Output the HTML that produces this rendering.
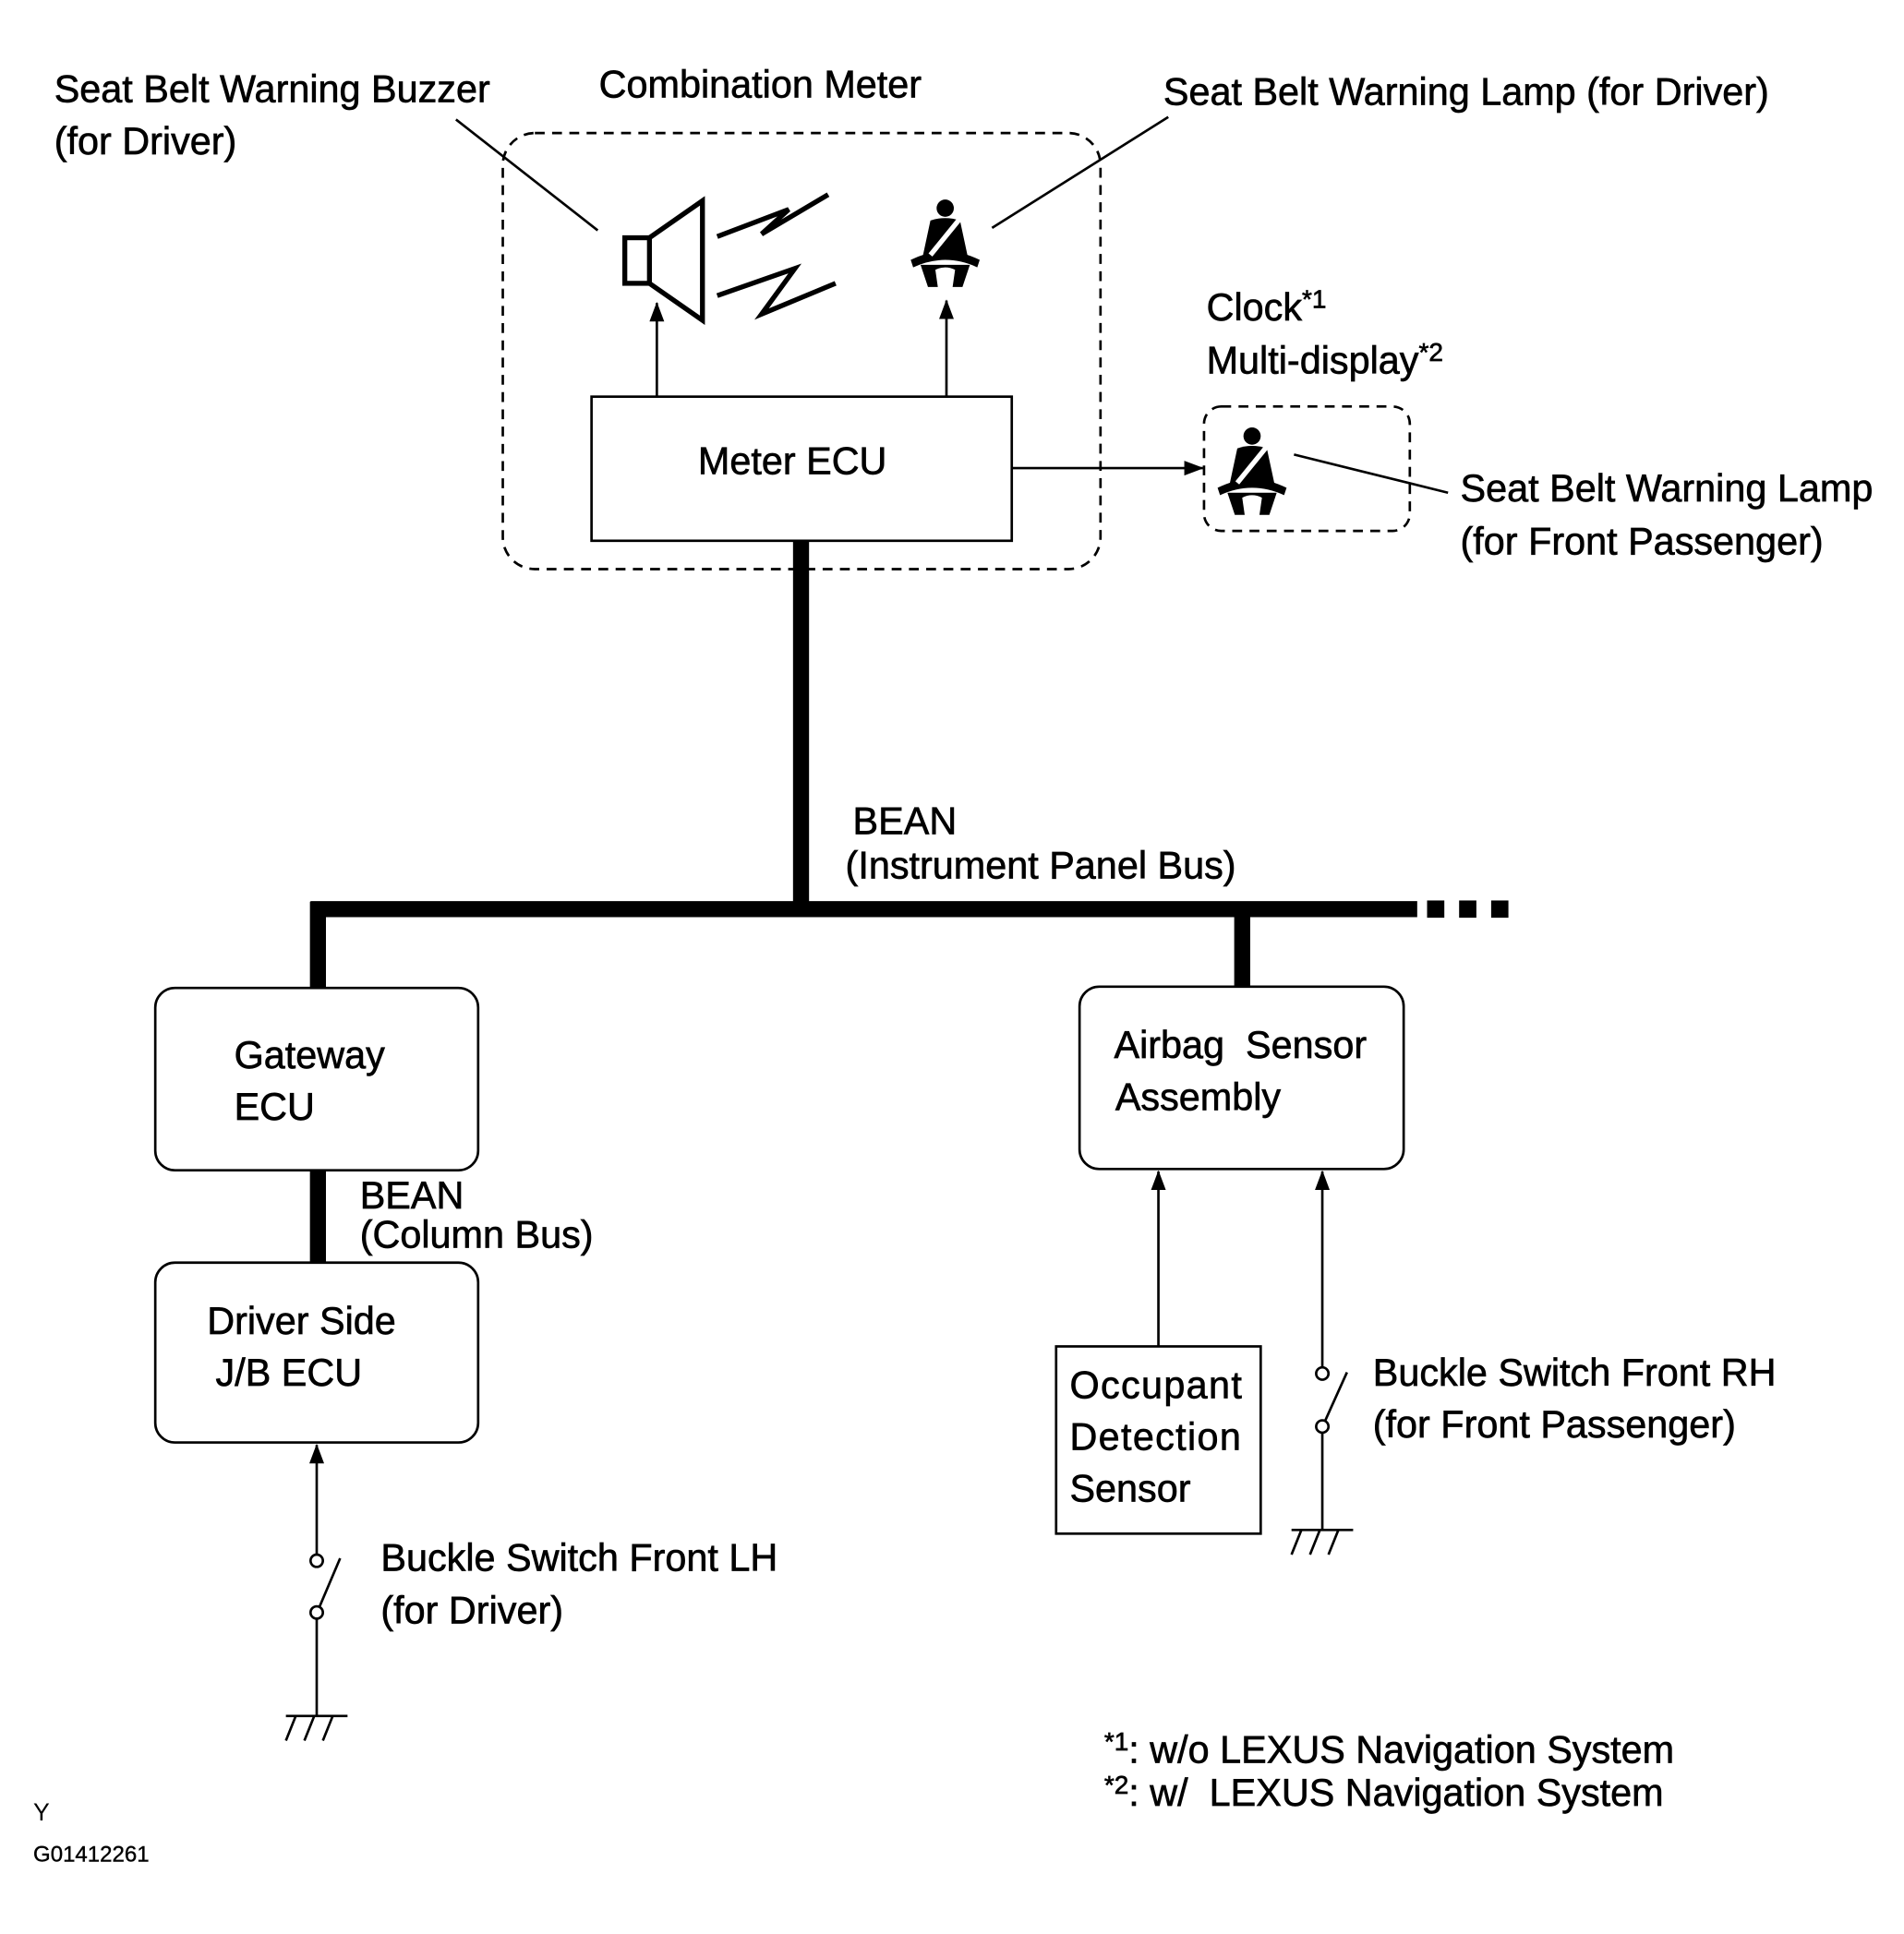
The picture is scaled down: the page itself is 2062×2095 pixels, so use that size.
<!DOCTYPE html>
<html><head><meta charset="utf-8"><style>
html,body{margin:0;padding:0;background:#fff;}
svg{display:block;}
text{font-family:"Liberation Sans",Arial,sans-serif;font-size:31px;fill:#000;stroke:#000;stroke-width:0.5;white-space:pre;}
</style></head><body>
<svg width="2062" height="2095" viewBox="0 0 1545 1570" preserveAspectRatio="none" xmlns="http://www.w3.org/2000/svg">
<defs>
<marker id="ah" markerWidth="16" markerHeight="12" refX="15" refY="6" orient="auto" markerUnits="userSpaceOnUse">
<path d="M0,0 L16,6 L0,12 Z" fill="#000"/></marker>
<g id="belt">
<circle cx="0" cy="-28" r="7" fill="#000"/>
<path d="M-12,-18 Q0,-22 12,-18 L18,10 L-18,10 Z" fill="#000"/>
<path d="M-28,14 Q0,0 28,14 L26,20 Q0,8 -26,20 Z" fill="#000"/>
<path d="M-20,18 L-14,36 L-6,36 L-8,22 Q0,18 8,22 L6,36 L14,36 L20,18 Z" fill="#000"/>
<line x1="-12" y1="10" x2="14" y2="-22" stroke="#fff" stroke-width="4"/>
</g>
</defs>
<rect width="1545" height="1570" fill="#fff"/>

<rect x="408" y="108" width="485" height="354" rx="26" fill="none" stroke="#000" stroke-width="2" stroke-dasharray="8,6"/>
<rect x="977" y="330" width="167" height="101" rx="14" fill="none" stroke="#000" stroke-width="2" stroke-dasharray="8,6"/>

<rect x="480" y="322" width="341" height="117" fill="#fff" stroke="#000" stroke-width="2"/>
<text x="643" y="385" text-anchor="middle">Meter ECU</text>

<rect x="507" y="193" width="20" height="37" fill="none" stroke="#000" stroke-width="4"/>
<path d="M527,193 L570,163 L570,260 L527,230" fill="none" stroke="#000" stroke-width="4"/>
<path d="M582,192 L640,170 L618,190 L672,158" fill="none" stroke="#000" stroke-width="4"/>
<path d="M582,240 L645,218 L618,255 L678,230" fill="none" stroke="#000" stroke-width="4"/>

<use href="#belt" transform="translate(767,197)"/>
<use href="#belt" transform="translate(1016,382)"/>

<line x1="370" y1="97" x2="485" y2="187" stroke="#000" stroke-width="2"/>
<line x1="948" y1="95" x2="805" y2="185" stroke="#000" stroke-width="2"/>
<line x1="1050" y1="369" x2="1175" y2="400" stroke="#000" stroke-width="2"/>

<line x1="533" y1="322" x2="533" y2="246" stroke="#000" stroke-width="2" marker-end="url(#ah)"/>
<line x1="768" y1="322" x2="768" y2="244" stroke="#000" stroke-width="2" marker-end="url(#ah)"/>
<line x1="821" y1="380" x2="976" y2="380" stroke="#000" stroke-width="2" marker-end="url(#ah)"/>

<line x1="650" y1="439" x2="650" y2="744" stroke="#000" stroke-width="13"/>
<line x1="252" y1="738" x2="1150" y2="738" stroke="#000" stroke-width="13"/>
<rect x="1158" y="731" width="14" height="14" fill="#000"/>
<rect x="1184" y="731" width="14" height="14" fill="#000"/>
<rect x="1210" y="731" width="14" height="14" fill="#000"/>
<line x1="258" y1="732" x2="258" y2="802" stroke="#000" stroke-width="13"/>
<line x1="1008" y1="738" x2="1008" y2="802" stroke="#000" stroke-width="13"/>
<line x1="258" y1="950" x2="258" y2="1025" stroke="#000" stroke-width="13"/>

<rect x="126" y="802" width="262" height="148" rx="16" fill="#fff" stroke="#000" stroke-width="2"/>
<text x="190" y="867">Gateway</text><text x="190" y="909">ECU</text>
<rect x="126" y="1025" width="262" height="146" rx="16" fill="#fff" stroke="#000" stroke-width="2"/>
<text x="168" y="1083">Driver Side</text><text x="175" y="1125">J/B ECU</text>
<rect x="876" y="801" width="263" height="148" rx="16" fill="#fff" stroke="#000" stroke-width="2"/>
<text x="904" y="859">Airbag&#160; Sensor</text><text x="905" y="901">Assembly</text>
<rect x="857" y="1093" width="166" height="152" fill="#fff" stroke="#000" stroke-width="2"/>
<text x="868" y="1135" style="letter-spacing:1px">Occupant</text><text x="868" y="1177" style="letter-spacing:1px">Detection</text><text x="868" y="1219">Sensor</text>

<line x1="257" y1="1262" x2="257" y2="1173" stroke="#000" stroke-width="2" marker-end="url(#ah)"/>
<circle cx="257" cy="1267" r="5" fill="#fff" stroke="#000" stroke-width="2"/>
<circle cx="257" cy="1309" r="5" fill="#fff" stroke="#000" stroke-width="2"/>
<line x1="259" y1="1305" x2="276" y2="1265" stroke="#000" stroke-width="2"/>
<line x1="257" y1="1314" x2="257" y2="1393" stroke="#000" stroke-width="2"/>
<line x1="232" y1="1393" x2="282" y2="1393" stroke="#000" stroke-width="2"/>
<path d="M240,1393 L232,1413 M255,1393 L247,1413 M270,1393 L262,1413" stroke="#000" stroke-width="2"/>

<line x1="940" y1="1093" x2="940" y2="951" stroke="#000" stroke-width="2" marker-end="url(#ah)"/>
<line x1="1073" y1="1110" x2="1073" y2="951" stroke="#000" stroke-width="2" marker-end="url(#ah)"/>
<circle cx="1073" cy="1115" r="5" fill="#fff" stroke="#000" stroke-width="2"/>
<circle cx="1073" cy="1158" r="5" fill="#fff" stroke="#000" stroke-width="2"/>
<line x1="1075" y1="1154" x2="1093" y2="1114" stroke="#000" stroke-width="2"/>
<line x1="1073" y1="1163" x2="1073" y2="1242" stroke="#000" stroke-width="2"/>
<line x1="1048" y1="1242" x2="1098" y2="1242" stroke="#000" stroke-width="2"/>
<path d="M1056,1242 L1048,1262 M1071,1242 L1063,1262 M1086,1242 L1078,1262" stroke="#000" stroke-width="2"/>

<text x="44" y="83">Seat Belt Warning Buzzer</text>
<text x="44" y="125">(for Driver)</text>
<text x="486" y="79">Combination Meter</text>
<text x="944" y="85">Seat Belt Warning Lamp (for Driver)</text>
<text x="979" y="260">Clock<tspan dy="-10" font-size="21">*1</tspan></text>
<text x="979" y="303">Multi-display<tspan dy="-10" font-size="21">*2</tspan></text>
<text x="1185" y="407">Seat Belt Warning Lamp</text>
<text x="1185" y="450">(for Front Passenger)</text>
<text x="692" y="677">BEAN</text>
<text x="686" y="713">(Instrument Panel Bus)</text>
<text x="292" y="981">BEAN</text>
<text x="292" y="1013">(Column Bus)</text>
<text x="309" y="1275">Buckle Switch Front LH</text>
<text x="309" y="1318">(for Driver)</text>
<text x="1114" y="1125">Buckle Switch Front RH</text>
<text x="1114" y="1167">(for Front Passenger)</text>
<text x="896" y="1431"><tspan dy="-10" font-size="21">*1</tspan><tspan dy="10">: w/o LEXUS Navigation System</tspan></text>
<text x="896" y="1466"><tspan dy="-10" font-size="21">*2</tspan><tspan dy="10">: w/&#160; LEXUS Navigation System</tspan></text>
<text x="27" y="1478" style="font-size:20px;stroke-width:0">Y</text>
<text x="27" y="1511" style="font-size:18px;stroke-width:0.3">G01412261</text>
</svg>
</body></html>
